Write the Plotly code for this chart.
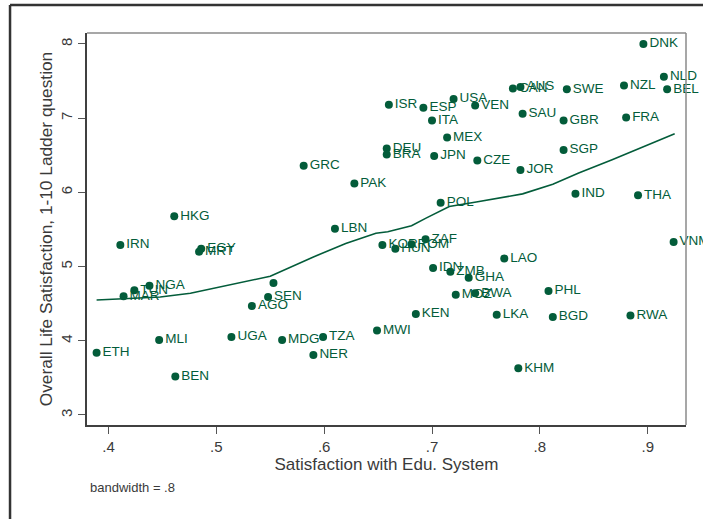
import plotly.graph_objects as go

# ---- data ----
countries = ["GRC","PAK","HKG","LBN","ISR","DEU","BRA","ESP","USA","VEN","ITA","MEX","JPN","CZE",
             "JOR","SAU","CAN","AUS","SWE","GBR","SGP","DNK","NLD","BEL","NZL","FRA","IND","THA",
             "POL","VNM","ZAF","KOR","ROM","HUN","LAO","IDN","ZMB","GHA","MOZ","BWA","PHL","KEN",
             "LKA","BGD","RWA","MWI","KHM","IRN","EGY","MRT","NGA","TUN","MAR","","SEN","AGO",
             "ETH","MLI","UGA","MDG","TZA","NER","BEN"]
edu_sat = [0.581,0.628,0.461,0.610,0.660,0.658,0.658,0.692,0.720,0.740,0.700,0.714,0.702,0.742,
           0.782,0.784,0.775,0.782,0.825,0.822,0.822,0.896,0.915,0.918,0.878,0.880,0.833,0.891,
           0.708,0.924,0.694,0.654,0.681,0.666,0.767,0.701,0.717,0.734,0.722,0.740,0.808,0.685,
           0.760,0.812,0.884,0.649,0.780,0.411,0.486,0.484,0.438,0.424,0.414,0.553,0.548,0.533,
           0.389,0.447,0.514,0.561,0.599,0.590,0.462]
life_sat = [6.36,6.12,5.68,5.51,7.18,6.59,6.51,7.14,7.26,7.17,6.97,6.74,6.49,6.43,
            6.30,7.06,7.40,7.42,7.39,6.97,6.57,8.00,7.56,7.39,7.44,7.01,5.98,5.96,
            5.86,5.33,5.37,5.29,5.30,5.24,5.11,4.98,4.93,4.85,4.62,4.64,4.67,4.36,
            4.35,4.32,4.34,4.14,3.63,5.29,5.24,5.20,4.74,4.68,4.60,4.78,4.59,4.47,
            3.84,4.01,4.05,4.01,4.05,3.81,3.52]

# lowess curve (bandwidth = .8)
lowess_x = [0.389,0.448,0.476,0.513,0.550,0.590,0.620,0.648,0.659,0.670,0.681,0.694,
            0.716,0.741,0.784,0.812,0.836,0.867,0.898,0.925]
lowess_y = [4.55,4.59,4.64,4.75,4.87,5.13,5.31,5.45,5.47,5.51,5.55,5.65,
            5.81,5.87,5.98,6.11,6.26,6.44,6.63,6.79]

x_ticks = [0.4,0.5,0.6,0.7,0.8,0.9]
x_ticktext = [".4",".5",".6",".7",".8",".9"]
y_ticks = [3,4,5,6,7,8]
y_ticktext = ["3","4","5","6","7","8"]

GREEN = "#035c3a"
FONT = "Liberation Sans, Arial, sans-serif"

fig = go.Figure()
fig.add_trace(go.Scatter(
    x=edu_sat, y=life_sat, mode="markers+text", text=countries,
    textposition="middle right",
    textfont=dict(family=FONT, size=13.5, color=GREEN),
    marker=dict(color=GREEN, size=8, line=dict(width=0)),
    cliponaxis=False, showlegend=False, hoverinfo="text"))
fig.add_trace(go.Scatter(
    x=lowess_x, y=lowess_y, mode="lines",
    line=dict(color=GREEN, width=1.6), showlegend=False, hoverinfo="skip"))

fig.update_layout(
    width=703, height=519,
    margin=dict(l=87, r=17, t=33, b=94),
    paper_bgcolor="white", plot_bgcolor="white",
    font=dict(family=FONT, color="#3a3a3a"),
    xaxis=dict(range=[0.3801, 0.9355], tickvals=x_ticks, ticktext=x_ticktext,
               showgrid=False, zeroline=False, showline=True, linecolor="#404040", linewidth=1.5,
               ticks="outside", ticklen=7, tickcolor="#555555", tickwidth=1,
               tickfont=dict(size=15, color="#3a3a3a"),
               title=dict(text="Satisfaction with Edu. System", font=dict(size=17, color="#3a3a3a"),
                          standoff=2)),
    yaxis=dict(range=[2.865, 8.148], tickvals=y_ticks, ticktext=y_ticktext,
               showgrid=False, zeroline=False, showline=True, linecolor="#404040", linewidth=1.5,
               ticks="outside", ticklen=7, tickcolor="#555555", tickwidth=1, tickangle=-90,
               tickfont=dict(size=15, color="#3a3a3a"),
               title=dict(text="Overall Life Satisfaction, 1-10 Ladder question",
                          font=dict(size=17.3, color="#3a3a3a"), standoff=1)),
    shapes=[
        # top / right plot region outline
        dict(type="line", xref="paper", yref="paper", x0=0, x1=1, y0=1, y1=1,
             line=dict(color="#8a8a8a", width=1.5)),
        dict(type="line", xref="paper", yref="paper", x0=1, x1=1, y0=0, y1=1,
             line=dict(color="#8a8a8a", width=1.5)),
        # outer graph frame (cropped)
        dict(type="line", xref="paper", yref="paper", x0=-0.1285, x1=1.1, y0=1.0714, y1=1.0714,
             line=dict(color="#333333", width=2.5)),
        dict(type="line", xref="paper", yref="paper", x0=-0.1285, x1=-0.1285, y0=-0.3, y1=1.0714,
             line=dict(color="#333333", width=2.5)),
    ],
    annotations=[
        dict(text="bandwidth = .8", xref="paper", yref="paper", x=(88-87)/599, y=(425-487)/392,
             xanchor="left", yanchor="middle", showarrow=False,
             font=dict(family=FONT, size=13, color="#3a3a3a")),
    ],
)

fig.write_html("out.html", config={"displayModeBar": False},
               post_script="document.body.style.margin='0';")
